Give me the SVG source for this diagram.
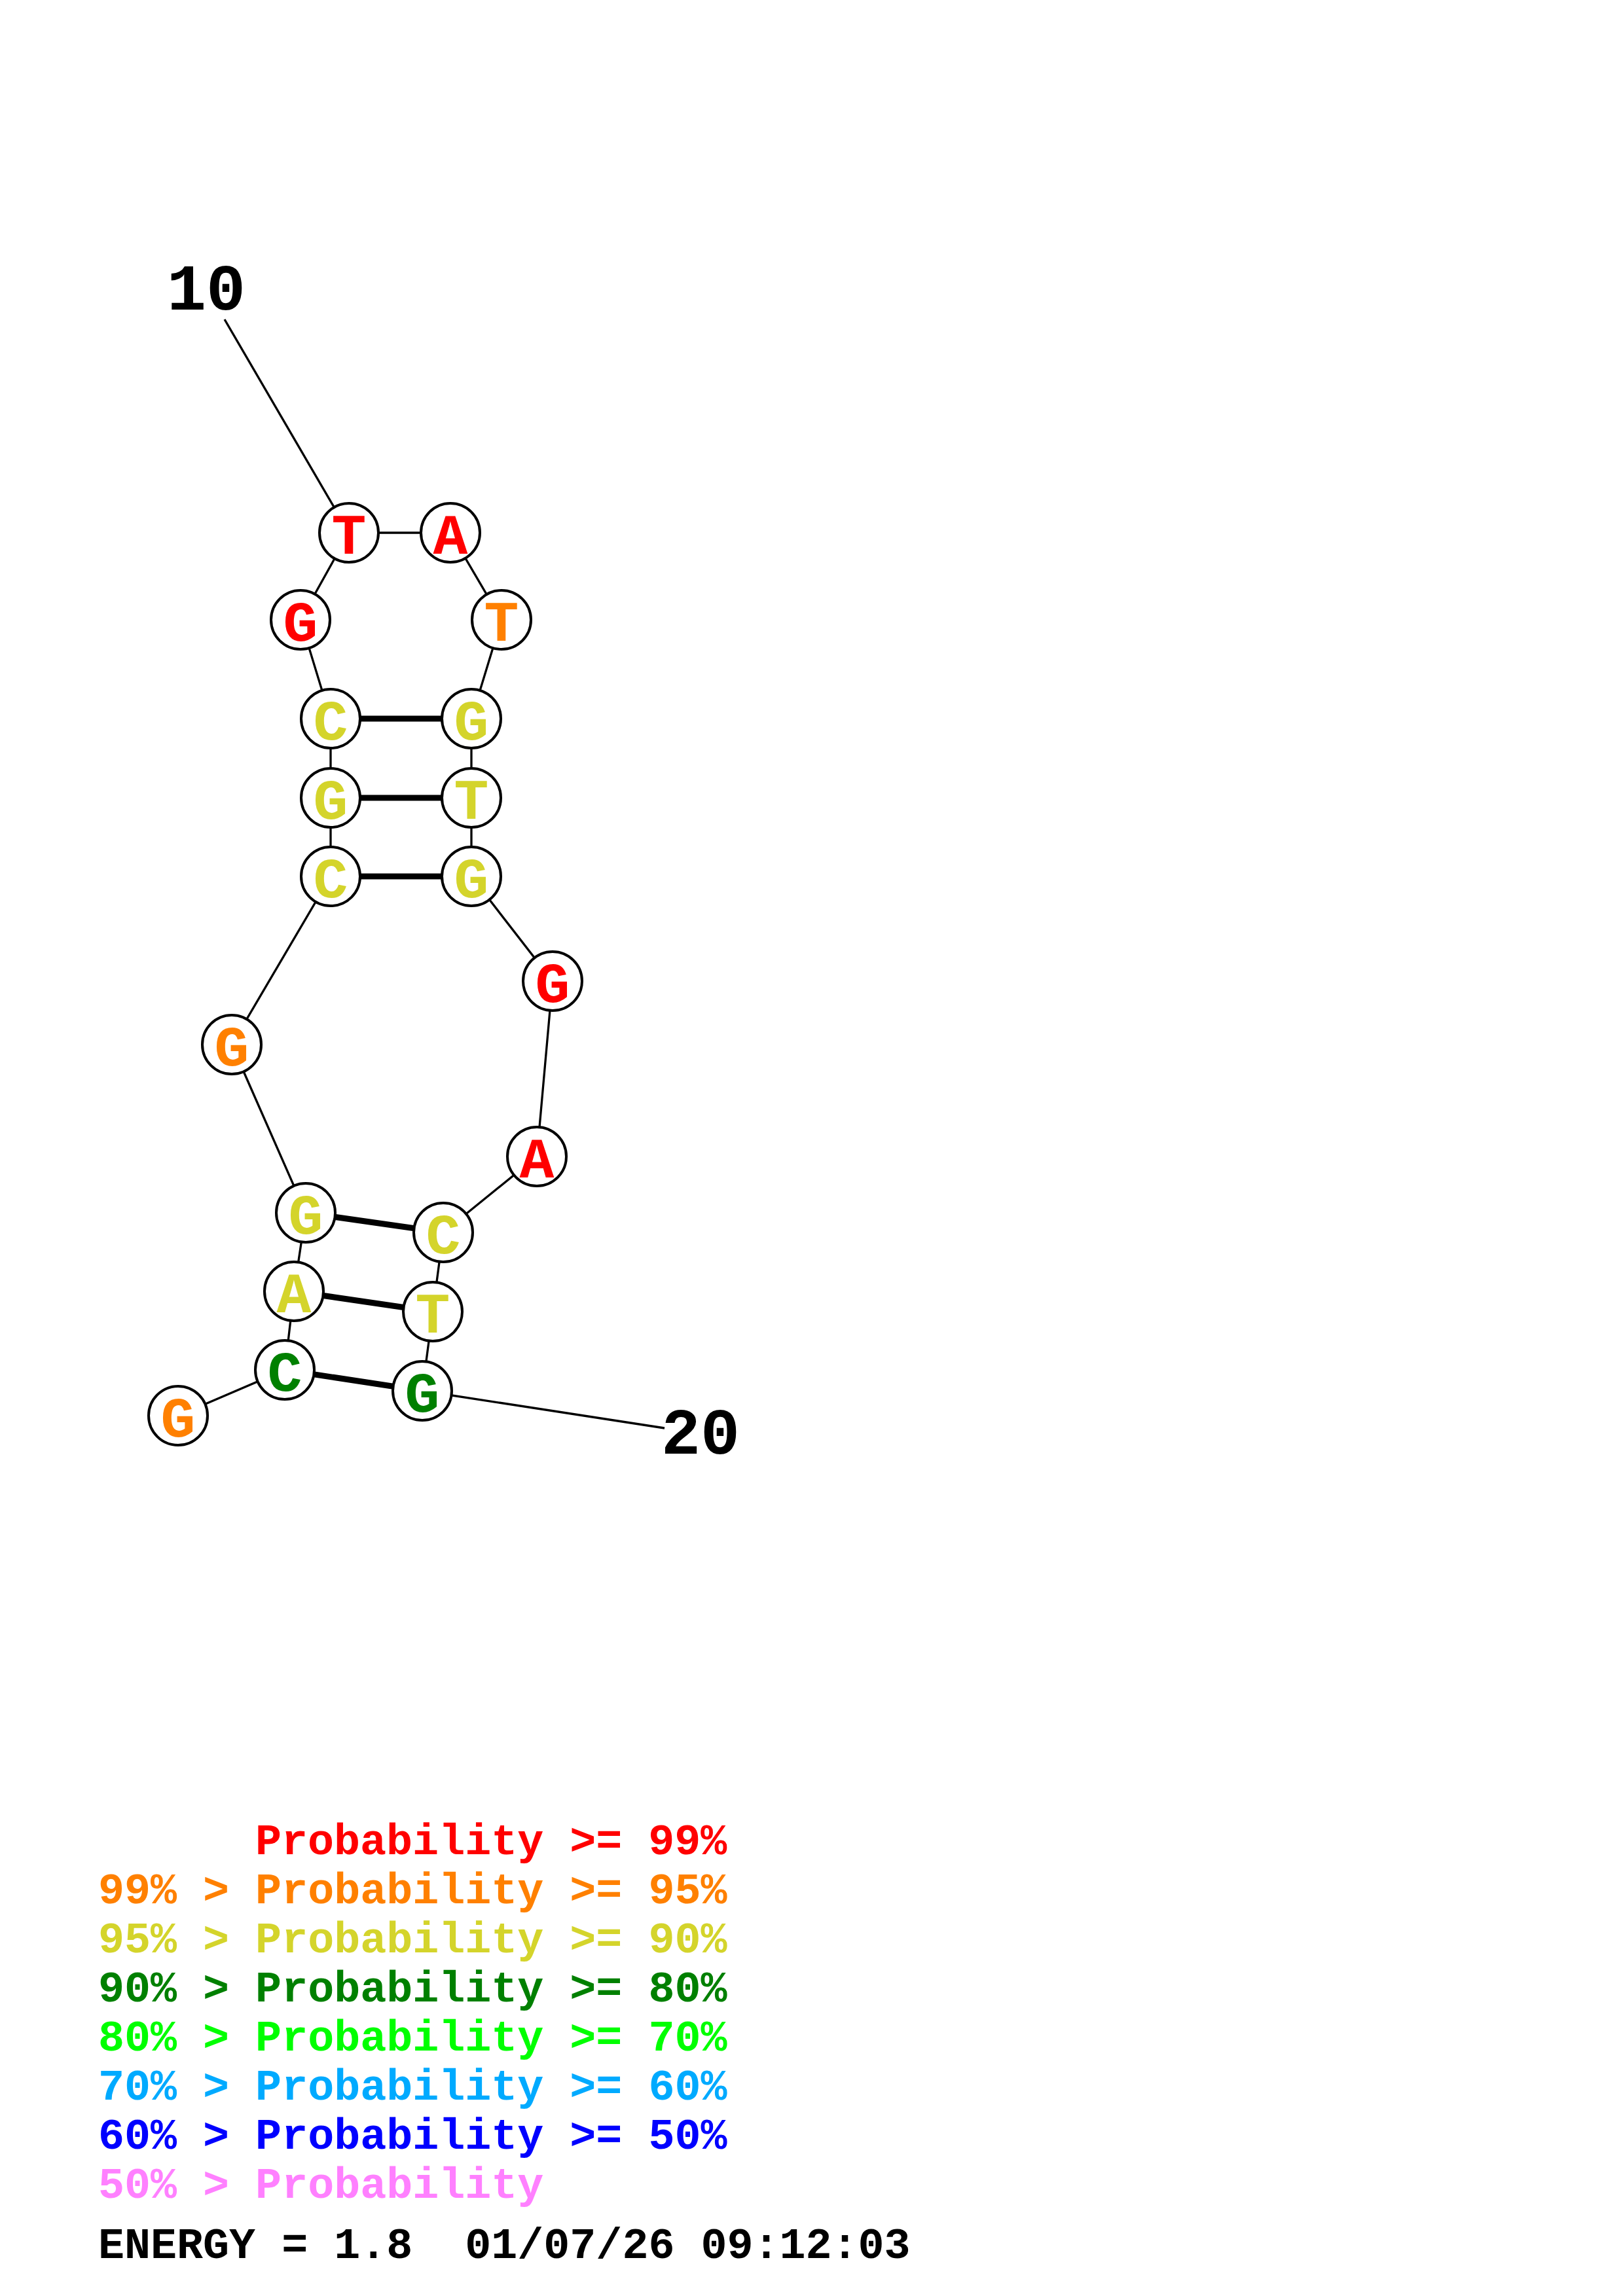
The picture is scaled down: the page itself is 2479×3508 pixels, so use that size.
<svg xmlns="http://www.w3.org/2000/svg" width="2479" height="3508" viewBox="0 0 2479 3508">
<style>
text{font-family:"Liberation Mono","Courier New",monospace;font-weight:bold}
.bb{stroke:#000;stroke-width:3.3;fill:none}
.bp{stroke:#000;stroke-width:9;fill:none}
.nd circle{fill:#fff;stroke:#000;stroke-width:4}
.nd text{font-size:88px;text-anchor:middle}
.num{font-size:100px;fill:#000}
.lg{font-size:66.7px}
.r{fill:#ff0000}.o{fill:#ff8000}.y{fill:#d4d42b}.g{fill:#008000}.l{fill:#00ff00}.c{fill:#00aaff}.b{fill:#0000ff}.p{fill:#ff80ff}
</style>
<rect width="2479" height="3508" fill="#fff"/>
<g id="connectors">
<line class="bb" x1="343" y1="488" x2="533" y2="814"/>
<line class="bb" x1="645" y1="2125" x2="1015" y2="2182"/>
<polyline class="bb" points="272,2163 435,2093 449,1973 467,1853 354,1596 505,1339 505,1219 505,1098 459,947 533,814 688,814 766,947 720,1098 720,1219 720,1339 844,1499 820,1767 677,1883 661,2004 645,2125"/>
<line class="bp" x1="435" y1="2093" x2="645" y2="2125"/>
<line class="bp" x1="449" y1="1973" x2="661" y2="2004"/>
<line class="bp" x1="467" y1="1853" x2="677" y2="1883"/>
<line class="bp" x1="505" y1="1339" x2="720" y2="1339"/>
<line class="bp" x1="505" y1="1219" x2="720" y2="1219"/>
<line class="bp" x1="505" y1="1098" x2="720" y2="1098"/>
</g>
<g id="n1" class="nd"><circle cx="272" cy="2163" r="45"/><text x="272" y="2195" class="o">G</text></g>
<g id="n2" class="nd"><circle cx="435" cy="2093" r="45"/><text x="435" y="2125" class="g">C</text></g>
<g id="n3" class="nd"><circle cx="449" cy="1973" r="45"/><text x="449" y="2005" class="y">A</text></g>
<g id="n4" class="nd"><circle cx="467" cy="1853" r="45"/><text x="467" y="1885" class="y">G</text></g>
<g id="n5" class="nd"><circle cx="354" cy="1596" r="45"/><text x="354" y="1628" class="o">G</text></g>
<g id="n6" class="nd"><circle cx="505" cy="1339" r="45"/><text x="505" y="1371" class="y">C</text></g>
<g id="n7" class="nd"><circle cx="505" cy="1219" r="45"/><text x="505" y="1251" class="y">G</text></g>
<g id="n8" class="nd"><circle cx="505" cy="1098" r="45"/><text x="505" y="1130" class="y">C</text></g>
<g id="n9" class="nd"><circle cx="459" cy="947" r="45"/><text x="459" y="979" class="r">G</text></g>
<g id="n10" class="nd"><circle cx="533" cy="814" r="45"/><text x="533" y="846" class="r">T</text></g>
<g id="n11" class="nd"><circle cx="688" cy="814" r="45"/><text x="688" y="846" class="r">A</text></g>
<g id="n12" class="nd"><circle cx="766" cy="947" r="45"/><text x="766" y="979" class="o">T</text></g>
<g id="n13" class="nd"><circle cx="720" cy="1098" r="45"/><text x="720" y="1130" class="y">G</text></g>
<g id="n14" class="nd"><circle cx="720" cy="1219" r="45"/><text x="720" y="1251" class="y">T</text></g>
<g id="n15" class="nd"><circle cx="720" cy="1339" r="45"/><text x="720" y="1371" class="y">G</text></g>
<g id="n16" class="nd"><circle cx="844" cy="1499" r="45"/><text x="844" y="1531" class="r">G</text></g>
<g id="n17" class="nd"><circle cx="820" cy="1767" r="45"/><text x="820" y="1799" class="r">A</text></g>
<g id="n18" class="nd"><circle cx="677" cy="1883" r="45"/><text x="677" y="1915" class="y">C</text></g>
<g id="n19" class="nd"><circle cx="661" cy="2004" r="45"/><text x="661" y="2036" class="y">T</text></g>
<g id="n20" class="nd"><circle cx="645" cy="2125" r="45"/><text x="645" y="2157" class="g">G</text></g>
<g id="labels">
<text class="num" x="255" y="473">10</text>
<text class="num" x="1010" y="2221">20</text>
</g>
<g id="legend" class="lg">
<text x="390" y="2833" class="r lg">Probability &gt;= 99%</text>
<text x="150" y="2908" class="o lg">99% &gt; Probability &gt;= 95%</text>
<text x="150" y="2983" class="y lg">95% &gt; Probability &gt;= 90%</text>
<text x="150" y="3058" class="g lg">90% &gt; Probability &gt;= 80%</text>
<text x="150" y="3133" class="l lg">80% &gt; Probability &gt;= 70%</text>
<text x="150" y="3208" class="c lg">70% &gt; Probability &gt;= 60%</text>
<text x="150" y="3283" class="b lg">60% &gt; Probability &gt;= 50%</text>
<text x="150" y="3358" class="p lg">50% &gt; Probability</text>
<text x="150" y="3450" class="lg" fill="#000" xml:space="preserve">ENERGY = 1.8  01/07/26 09:12:03</text>
</g>
</svg>
